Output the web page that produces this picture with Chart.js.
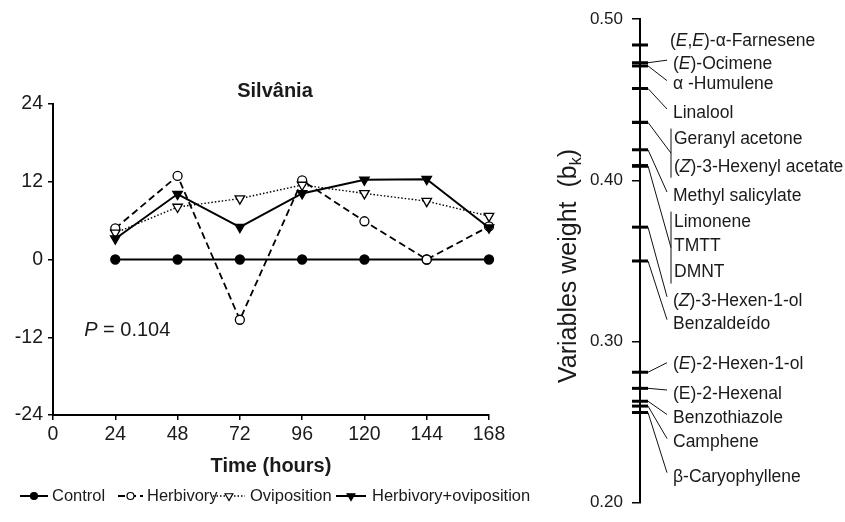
<!DOCTYPE html>
<html>
<head>
<meta charset="utf-8">
<script src="https://cdn.jsdelivr.net/npm/chart.js@4.4.0/dist/chart.umd.min.js"></script>
<style>
  html, body { margin: 0; padding: 0; background: #fff; }
  #wrap { position: relative; width: 845px; height: 522px; overflow: hidden; }
  #timeChart { position: absolute; left: 0; top: 0; }
  #weightChart { position: absolute; left: 545px; top: 0; }
</style>
</head>
<body>
<div id="wrap">
  <canvas id="timeChart" width="545" height="522"></canvas>
  <canvas id="weightChart" width="300" height="522"></canvas>
</div>
<script>
// left panel: time course
const hours = [24, 48, 72, 96, 120, 144, 168]
const control = [0, 0, 0, 0, 0, 0, 0]
const herbivory = [4.8, 12.9, -9.3, 12.2, 5.9, 0, 5.1]
const oviposition = [4.1, 8.1, 9.4, 11.5, 10.2, 9.0, 6.7]
const herbOvip = [3.2, 10.1, 5.0, 10.2, 12.3, 12.4, 4.9]
const seriesNames = ["Control", "Herbivory", "Oviposition", "Herbivory+oviposition"]
const panelTitle = "Silvânia"
const pText = "0.104"

// right panel: variables weight (*...* = italic)
const compounds = [
  "(*E*,*E*)-α-Farnesene", "(*E*)-Ocimene", "α -Humulene", "Linalool",
  "Geranyl acetone", "(*Z*)-3-Hexenyl acetate", "Methyl salicylate",
  "Limonene", "TMTT", "DMNT", "(*Z*)-3-Hexen-1-ol", "Benzaldeído",
  "(*E*)-2-Hexen-1-ol", "(E)-2-Hexenal", "Benzothiazole", "Camphene", "β-Caryophyllene"
]
const weights = [0.484, 0.473, 0.471, 0.457, 0.436, 0.436, 0.419, 0.409, 0.409, 0.409,
  0.371, 0.350, 0.281, 0.271, 0.263, 0.260, 0.256]
const weightTicks = [0.20, 0.30, 0.40, 0.50]

// where the names sit along the axis (layout, in axis units)
const labelAt = [0.4862, 0.4721, 0.4594, 0.4418, 0.4253, 0.4085, 0.3903, 0.3738, 0.3593,
  0.3428, 0.3253, 0.3111, 0.2863, 0.2675, 0.2523, 0.2374, 0.2162]

const FONT = "'Liberation Sans', Arial, Helvetica, sans-serif"
const INK = "#1a1a1a"

const makeSeries = function (values) {
     return values.map((v, i) => ({ x: hours[i], y: v }))
}

const seriesStyle = [
     { borderWidth: 2, borderDash: [], pointStyle: "circle", radius: 4.5, fill: "#000", rotation: 0 },
     { borderWidth: 1.8, borderDash: [7, 4], pointStyle: "circle", radius: 4.5, fill: "#fff", rotation: 0 },
     { borderWidth: 1.4, borderDash: [1.5, 2], pointStyle: "triangle", radius: 5.5, fill: "#fff", rotation: 180 },
     { borderWidth: 2, borderDash: [], pointStyle: "triangle", radius: 5.5, fill: "#000", rotation: 180 },
]
const seriesData = [control, herbivory, oviposition, herbOvip]

const legendLayout = [
     { x0: 20, x1: 48, tx: 52 },
     { x0: 118, x1: 143, tx: 147 },
     { x0: 213, x1: 245, tx: 250 },
     { x0: 336, x1: 366, tx: 372 },
]

const timeExtras = {
     id: "timeExtras",
     afterDraw(chart) {
          const ctx = chart.ctx
          const xs = chart.scales.x
          const ys = chart.scales.y
          const area = chart.chartArea
          ctx.save()
          ctx.fillStyle = INK
          ctx.textBaseline = "middle"

          // title
          ctx.font = "bold 20px " + FONT
          ctx.textAlign = "center"
          ctx.fillText(panelTitle, (area.left + area.right) / 2 + 4, 91)

          // P value
          ctx.textAlign = "left"
          let px = xs.getPixelForValue(12)
          const py = ys.getPixelForValue(-11)
          ctx.font = "italic 20px " + FONT
          ctx.fillText("P", px, py)
          px += ctx.measureText("P ").width
          ctx.font = "20px " + FONT
          ctx.fillText("= " + pText, px, py)

          // legend
          const ly = 496
          ctx.font = "16.5px " + FONT
          seriesNames.forEach((name, i) => {
               const st = seriesStyle[i]
               const lay = legendLayout[i]
               ctx.strokeStyle = "#000"
               ctx.lineWidth = st.borderWidth
               ctx.setLineDash(st.borderDash)
               ctx.beginPath()
               ctx.moveTo(lay.x0, ly)
               ctx.lineTo(lay.x1, ly)
               ctx.stroke()
               ctx.setLineDash([])
               ctx.fillStyle = st.fill
               ctx.lineWidth = 1.2
               Chart.helpers.drawPoint(ctx, {
                    pointStyle: st.pointStyle,
                    radius: st.pointStyle === "circle" ? 3.5 : 4.5,
                    rotation: st.rotation,
                    borderWidth: 1.2
               }, (lay.x0 + lay.x1) / 2, ly)
               ctx.fillStyle = INK
               ctx.fillText(name, lay.tx, ly)
          })
          ctx.restore()
     }
}

new Chart(document.getElementById("timeChart"), {
     type: "line",
     data: {
          datasets: seriesData.map((vals, i) => ({
               label: seriesNames[i],
               data: makeSeries(vals),
               borderColor: "#000",
               borderWidth: seriesStyle[i].borderWidth,
               borderDash: seriesStyle[i].borderDash,
               pointStyle: seriesStyle[i].pointStyle,
               pointRotation: seriesStyle[i].rotation,
               pointRadius: seriesStyle[i].radius,
               pointBackgroundColor: seriesStyle[i].fill,
               pointBorderColor: "#000",
               pointBorderWidth: 1.3,
               tension: 0,
               clip: false
          })).reverse()
     },
     options: {
          responsive: false,
          animation: false,
          layout: { padding: { top: 104, right: 56, left: 0, bottom: 0 } },
          plugins: { legend: { display: false }, tooltip: { enabled: false } },
          scales: {
               x: {
                    type: "linear",
                    min: 0,
                    max: 168,
                    afterBuildTicks: s => { s.ticks = [0].concat(hours).map(v => ({ value: v })) },
                    afterFit: s => { s.height = 107 },
                    ticks: { color: INK, font: { family: FONT, size: 19.5 }, padding: 3, maxRotation: 0 },
                    grid: { drawOnChartArea: false, drawTicks: true, tickLength: 5, color: "#000", lineWidth: 1.5 },
                    border: { display: true, color: "#000", width: 2 },
                    title: { display: true, text: "Time (hours)", color: INK, font: { family: FONT, size: 20, weight: "bold" }, padding: { top: 0, bottom: 44 } }
               },
               y: {
                    min: -24,
                    max: 24,
                    afterBuildTicks: s => { s.ticks = [-24, -12, 0, 12, 24].map(v => ({ value: v })) },
                    afterFit: s => { s.width = 53 },
                    ticks: { color: INK, font: { family: FONT, size: 19.5 }, padding: 5 },
                    grid: { drawOnChartArea: false, drawTicks: true, tickLength: 5, color: "#000", lineWidth: 1.5 },
                    border: { display: true, color: "#000", width: 2 }
               }
          }
     },
     plugins: [timeExtras]
})

// draws a name with *italic* parts, left aligned
const drawRich = function (ctx, text, x, y, size) {
     const parts = text.split("*")
     parts.forEach((p, i) => {
          ctx.font = (i % 2 ? "italic " : "") + size + "px " + FONT
          ctx.fillText(p, x, y)
          x += ctx.measureText(p).width
     })
}

const weightExtras = {
     id: "weightExtras",
     afterDraw(chart) {
          const ctx = chart.ctx
          const ys = chart.scales.y
          const left = chart.chartArea.left
          ctx.save()
          ctx.fillStyle = INK
          ctx.strokeStyle = "#111"
          ctx.lineWidth = 1
          ctx.textBaseline = "middle"
          ctx.textAlign = "left"

          // axis title, rotated, with subscript k
          ctx.save()
          ctx.translate(31, 266)
          ctx.rotate(-Math.PI / 2)
          ctx.textBaseline = "alphabetic"
          ctx.font = "25px " + FONT
          const mainTxt = "Variables weight  (b"
          const wMain = ctx.measureText(mainTxt).width
          ctx.font = "16px " + FONT
          const wSub = ctx.measureText("k").width
          ctx.font = "25px " + FONT
          const wEnd = ctx.measureText(")").width
          let tx = -(wMain + wSub + wEnd) / 2
          ctx.fillText(mainTxt, tx, 0)
          tx += wMain
          ctx.font = "16px " + FONT
          ctx.fillText("k", tx, 5)
          tx += wSub
          ctx.font = "25px " + FONT
          ctx.fillText(")", tx, 0)
          ctx.restore()

          const barEnd = left + 8
          const nameX = left + 33
          let i = 0
          while (i < compounds.length) {
               let j = i
               while (j + 1 < compounds.length && weights[j + 1] === weights[i]) j++
               const barY = ys.getPixelForValue(weights[i])
               if (j > i) {
                    // bracket for names sharing one weight
                    const top = ys.getPixelForValue(labelAt[i]) - 11
                    const bot = ys.getPixelForValue(labelAt[j]) + 11
                    const bx = left + 31
                    ctx.beginPath()
                    ctx.moveTo(bx, top)
                    ctx.lineTo(bx, bot)
                    ctx.stroke()
                    ctx.beginPath()
                    ctx.moveTo(barEnd, barY)
                    ctx.lineTo(bx, (top + bot) / 2)
                    ctx.stroke()
                    for (let k = i; k <= j; k++) {
                         drawRich(ctx, compounds[k], bx + 3, ys.getPixelForValue(labelAt[k]), 17.5)
                    }
               } else {
                    const ly = ys.getPixelForValue(labelAt[i])
                    if (i > 0) {
                         ctx.beginPath()
                         ctx.moveTo(barEnd, barY)
                         ctx.lineTo(left + 27, ly < barY ? ly - 1 : ly - 4)
                         ctx.stroke()
                    }
                    drawRich(ctx, compounds[i], i === 0 ? nameX - 3 : nameX, ly, 17.5)
               }
               i = j + 1
          }
          ctx.restore()
     }
}

new Chart(document.getElementById("weightChart"), {
     type: "scatter",
     data: {
          datasets: [{
               data: weights.map(w => ({ x: 0, y: w })),
               pointStyle: "line",
               pointRadius: 8,
               pointBorderWidth: 3,
               pointBorderColor: "#000",
               clip: false
          }]
     },
     options: {
          responsive: false,
          animation: false,
          layout: { padding: { top: 19, bottom: 8, left: 0, right: 0 } },
          plugins: { legend: { display: false }, tooltip: { enabled: false } },
          scales: {
               x: { type: "linear", min: 0, max: 1, display: false },
               y: {
                    min: 0.2,
                    max: 0.5,
                    afterBuildTicks: s => { s.ticks = weightTicks.map(v => ({ value: v })) },
                    afterFit: s => { s.width = 95 },
                    ticks: { color: INK, font: { family: FONT, size: 17 }, padding: 9, callback: v => v.toFixed(2) },
                    grid: { drawOnChartArea: false, drawTicks: true, tickLength: 8, color: "#000", lineWidth: 1.5 },
                    border: { display: true, color: "#000", width: 2 }
               }
          }
     },
     plugins: [weightExtras]
})
</script>
</body>
</html>
